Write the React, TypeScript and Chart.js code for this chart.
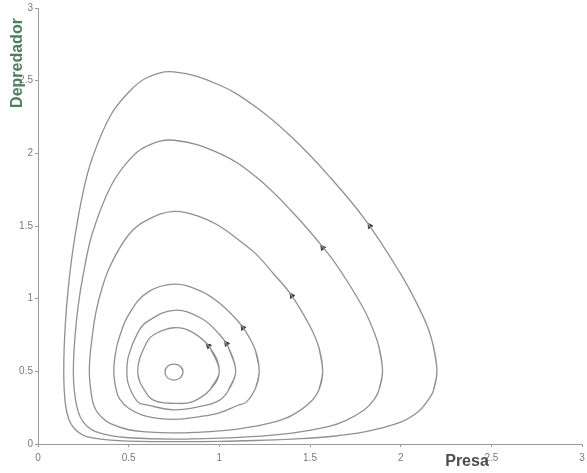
import { useEffect, useRef } from "react";
import { Chart, registerables } from "chart.js";

Chart.register(...registerables);

type Pt = [number, number];

// Closed prey–predator orbits (Presa, Depredador), listed counter-clockwise.
const orbitTiny: Pt[] = [
  [0.8, 0.495], [0.785, 0.535], [0.75, 0.55], [0.715, 0.535],
  [0.7, 0.495], [0.715, 0.455], [0.75, 0.44], [0.785, 0.455],
];

const orbit1: Pt[] = [
  [1.0, 0.5], [0.95, 0.66], [0.85, 0.77], [0.75, 0.8], [0.65, 0.76], [0.6, 0.7],
  [0.55, 0.5], [0.6, 0.345], [0.65, 0.295], [0.75, 0.28], [0.85, 0.29], [0.95, 0.375],
];

const orbit2: Pt[] = [
  [1.09, 0.5], [1.05, 0.665], [1.0, 0.755], [0.9, 0.865], [0.75, 0.92], [0.6, 0.84],
  [0.55, 0.765], [0.5, 0.61], [0.49, 0.5], [0.5, 0.405], [0.55, 0.29], [0.6, 0.27],
  [0.75, 0.235], [0.9, 0.26], [1.0, 0.3], [1.05, 0.37],
];

const orbit3: Pt[] = [
  [1.22, 0.5], [1.2, 0.64], [1.15, 0.765], [1.1, 0.85], [1.0, 0.97], [0.9, 1.05],
  [0.75, 1.1], [0.6, 1.04], [0.5, 0.89], [0.45, 0.74], [0.43, 0.645], [0.418, 0.5],
  [0.43, 0.38], [0.45, 0.31], [0.5, 0.246], [0.6, 0.19], [0.75, 0.17], [0.9, 0.19],
  [1.0, 0.215], [1.1, 0.265], [1.15, 0.29], [1.2, 0.385],
];

const orbit4: Pt[] = [
  [1.57, 0.5], [1.55, 0.66], [1.5, 0.81], [1.4, 1.02], [1.3, 1.17], [1.2, 1.31],
  [1.1, 1.41], [1.0, 1.5], [0.9, 1.56], [0.75, 1.6], [0.6, 1.54], [0.5, 1.44],
  [0.4, 1.23], [0.35, 1.06], [0.32, 0.91], [0.3, 0.75], [0.283, 0.5], [0.3, 0.3],
  [0.32, 0.232], [0.35, 0.185], [0.4, 0.14], [0.5, 0.098], [0.6, 0.084], [0.75, 0.076],
  [0.9, 0.082], [1.0, 0.09], [1.1, 0.103], [1.2, 0.123], [1.3, 0.15], [1.4, 0.197],
  [1.5, 0.285], [1.55, 0.375],
];

const orbit5: Pt[] = [
  [1.9, 0.5], [1.88, 0.67], [1.85, 0.78], [1.8, 0.92], [1.7, 1.13], [1.6, 1.31],
  [1.4, 1.6], [1.2, 1.84], [1.0, 2.0], [0.75, 2.09], [0.6, 2.05], [0.5, 1.95],
  [0.4, 1.77], [0.3, 1.45], [0.25, 1.17], [0.22, 0.935], [0.2, 0.67], [0.195, 0.5],
  [0.2, 0.37], [0.22, 0.23], [0.25, 0.15], [0.3, 0.096], [0.4, 0.058], [0.5, 0.043],
  [0.75, 0.034], [1.0, 0.04], [1.2, 0.052], [1.4, 0.075], [1.6, 0.12], [1.7, 0.163],
  [1.8, 0.235], [1.85, 0.3], [1.88, 0.37],
];

const orbit6: Pt[] = [
  [2.2, 0.5], [2.18, 0.675], [2.15, 0.8], [2.1, 0.94], [2.0, 1.17], [1.8, 1.55],
  [1.6, 1.85], [1.4, 2.11], [1.2, 2.32], [1.0, 2.47], [0.75, 2.56], [0.6, 2.52],
  [0.5, 2.42], [0.4, 2.26], [0.3, 1.97], [0.25, 1.74], [0.2, 1.4], [0.17, 1.11],
  [0.15, 0.81], [0.142, 0.5], [0.15, 0.285], [0.17, 0.17], [0.2, 0.107], [0.25, 0.06],
  [0.3, 0.042], [0.4, 0.026], [0.5, 0.02], [0.75, 0.016], [1.0, 0.018], [1.2, 0.024],
  [1.4, 0.034], [1.6, 0.05], [1.8, 0.083], [2.0, 0.15], [2.1, 0.225], [2.15, 0.3],
  [2.18, 0.365],
];

// Direction markers on the orbits (position and heading in degrees).
const arrowX = [0.94, 1.04, 1.13, 1.4, 1.57, 1.83];
const arrowY = [0.675, 0.69, 0.8, 1.02, 1.35, 1.5];
const arrowAngle = [-49, -35, -36, -35, -38, -33];

const xTicks = [0, 0.5, 1, 1.5, 2, 2.5, 3];
const yTicks = [0, 0.5, 1, 1.5, 2, 2.5, 3];
const xTitle = "Presa";
const yTitle = "Depredador";

const LINE = "#909090";
const AXIS = "#9a9a9a";
const TICK_TEXT = "#7a7a7a";

// Wrap the ring with its neighbours so the spline closes smoothly.
function ring(points: Pt[]) {
  const n = points.length;
  const seq = [points[n - 1], ...points, points[0], points[1]];
  return seq.map(([x, y]) => ({ x, y }));
}

const axisTitles = {
  id: "axisTitles",
  afterDraw(chart: Chart) {
    const { ctx, chartArea } = chart;
    ctx.save();
    ctx.font = 'bold 16px "Liberation Sans", Arial, sans-serif';
    ctx.textAlign = "center";
    ctx.textBaseline = "middle";
    ctx.fillStyle = "#4d4d4d";
    ctx.fillText(xTitle, 467, chartArea.bottom + 18);
    ctx.translate(18, 63);
    ctx.rotate(-Math.PI / 2);
    ctx.fillStyle = "#4f7f5f";
    ctx.fillText(yTitle, 0, 0);
    ctx.restore();
  },
};

export default function App() {
  const canvasRef = useRef<HTMLCanvasElement | null>(null);

  useEffect(() => {
    const canvas = canvasRef.current;
    if (!canvas) return;

    const orbits = [orbitTiny, orbit1, orbit2, orbit3, orbit4, orbit5, orbit6];
    const lineSets = orbits.map((pts) => ({
      type: "scatter" as const,
      data: ring(pts),
      showLine: true,
      tension: 0.4,
      borderColor: LINE,
      borderWidth: 1.3,
      pointRadius: 0,
      fill: false,
    }));

    const arrows = {
      type: "scatter" as const,
      data: arrowX.map((x, i) => ({ x, y: arrowY[i] })),
      showLine: false,
      pointStyle: "triangle" as const,
      pointRadius: 3,
      rotation: arrowAngle,
      backgroundColor: "#3c3c3c",
      borderColor: "#3c3c3c",
      borderWidth: 1,
    };

    const tickLabel = (v: number | string) => String(Number(v));

    const chart = new Chart(canvas, {
      type: "scatter",
      data: { datasets: [...lineSets, arrows] as any },
      plugins: [axisTitles],
      options: {
        animation: false,
        responsive: false,
        maintainAspectRatio: false,
        layout: { padding: { top: 8, right: 3, left: 0, bottom: 0 } },
        plugins: {
          legend: { display: false },
          tooltip: { enabled: false },
        },
        scales: {
          x: {
            type: "linear",
            min: 0,
            max: 3,
            afterBuildTicks: (scale: any) => {
              scale.ticks = xTicks.map((value) => ({ value }));
            },
            afterFit: (scale: any) => {
              scale.height = 29;
              scale.paddingLeft = 0;
              scale.paddingRight = 0;
            },
            ticks: {
              padding: 5,
              color: TICK_TEXT,
              font: { family: '"Liberation Sans", Arial, sans-serif', size: 10 },
              maxRotation: 0,
              callback: tickLabel,
            },
            grid: {
              display: true,
              drawOnChartArea: false,
              drawTicks: true,
              tickLength: 3,
              color: AXIS,
            },
            border: { display: true, color: AXIS, width: 1 },
          },
          y: {
            type: "linear",
            min: 0,
            max: 3,
            afterBuildTicks: (scale: any) => {
              scale.ticks = yTicks.map((value) => ({ value }));
            },
            afterFit: (scale: any) => {
              scale.width = 38;
            },
            ticks: {
              padding: 2,
              color: TICK_TEXT,
              font: { family: '"Liberation Sans", Arial, sans-serif', size: 10 },
              callback: tickLabel,
            },
            grid: {
              display: true,
              drawOnChartArea: false,
              drawTicks: true,
              tickLength: 3,
              color: AXIS,
            },
            border: { display: true, color: AXIS, width: 1 },
          },
        },
      },
    });

    return () => chart.destroy();
  }, []);

  return (
    <div style={{ position: "fixed", left: 0, top: 0, width: 587, height: 473, background: "#fff" }}>
      <canvas ref={canvasRef} width={587} height={473} style={{ display: "block" }} />
    </div>
  );
}
